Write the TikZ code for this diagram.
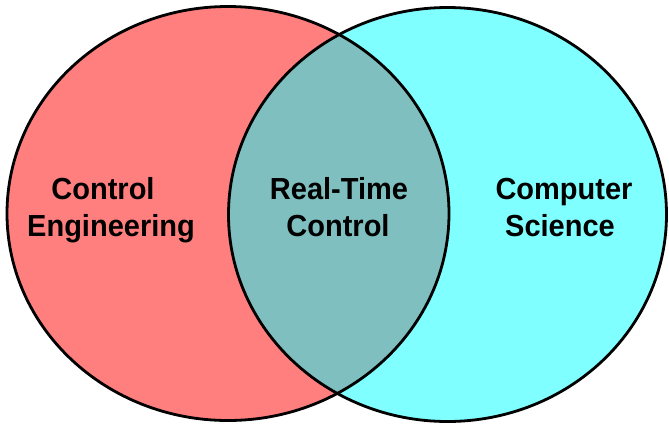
\documentclass[tikz,border=0pt]{standalone}
\usepackage{fontspec}
\setmainfont{Liberation Sans}
\definecolor{cered}{HTML}{FF7F7F}
\definecolor{cscyan}{HTML}{7FFFFF}
\definecolor{rtteal}{HTML}{7FBFBF}
\tikzset{
  lbl/.style={font=\bfseries\fontsize{29}{34}\selectfont, anchor=base, inner sep=0pt, yscale=1.05},
  rim/.style={draw=black, line width=2.8pt}
}
\begin{document}
\begin{tikzpicture}[x=1pt,y=-1pt]
\useasboundingbox (0,0) rectangle (669,424);
\fill[cered] (228,213.5) ellipse [x radius=221, y radius=207];
\fill[cscyan] (447.5,214.5) ellipse [x radius=219, y radius=207];
\begin{scope}
  \clip (228,213.5) ellipse [x radius=221, y radius=207];
  \fill[rtteal] (447.5,214.5) ellipse [x radius=219, y radius=207];
\end{scope}
\draw[rim] (228,213.5) ellipse [x radius=221, y radius=207];
\draw[rim] (447.5,214.5) ellipse [x radius=219, y radius=207];
\node[lbl] (ce1) at (103,199) {Control};
\node[lbl] (ce2) at (111,236) {Engineering};
\node[lbl] (rt1) at (339,199) {Real-Time};
\node[lbl] (rt2) at (338,236) {Control};
\node[lbl] (cs1) at (564,199) {Computer};
\node[lbl] (cs2) at (560,236) {Science};
\end{tikzpicture}
\end{document}
